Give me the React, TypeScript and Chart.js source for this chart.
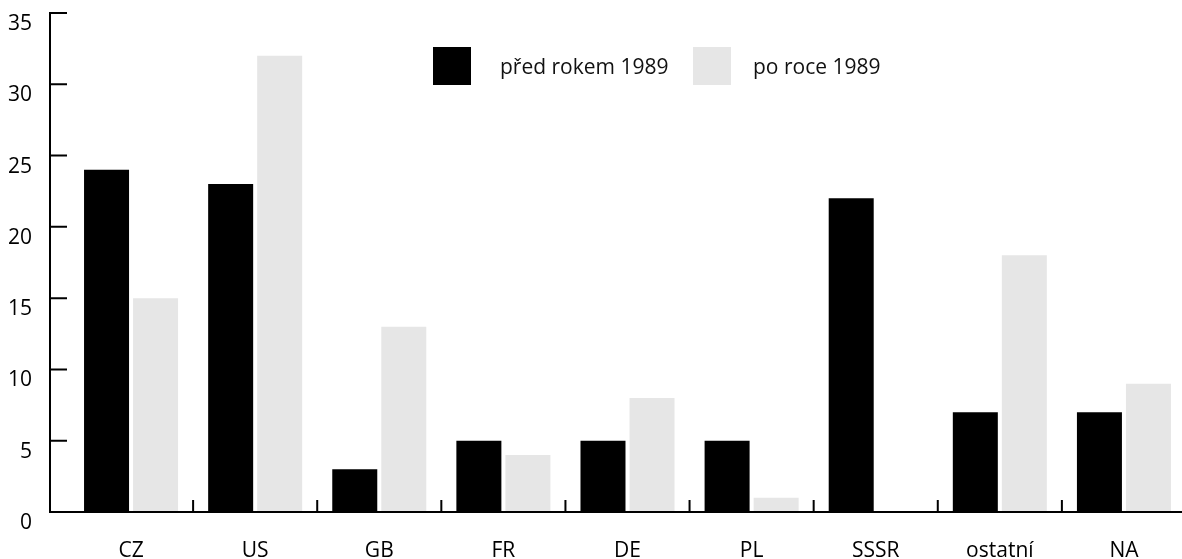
import React, { useEffect, useRef } from "react";
import { Chart, registerables } from "chart.js";

Chart.register(...registerables);

const categories = ["CZ", "US", "GB", "FR", "DE", "PL", "SSSR", "ostatní", "NA"];
const seriesNames = ["před rokem 1989", "po roce 1989"];
const before1989 = [24, 23, 3, 5, 5, 5, 22, 7, 7];
const after1989 = [15, 32, 13, 4, 8, 1, 0, 18, 9];
const yTicks = [0, 5, 10, 15, 20, 25, 30, 35];
const seriesColors = ["#000000", "#e6e6e6"];

const FONT = "'Open Sans', sans-serif";
const AXIS_X = 50;
const Y_TICK_LEN = 17;
const X_TICK_LEN = 12;

const axesPlugin = {
  id: "customAxes",
  afterDraw(chart: any) {
    const ctx = chart.ctx;
    const ys = chart.scales.y;
    const xs = chart.scales.x;
    const y0 = ys.getPixelForValue(0);
    const yTop = ys.getPixelForValue(yTicks[yTicks.length - 1]);
    ctx.save();
    ctx.strokeStyle = "#000";
    ctx.lineWidth = 2;
    ctx.beginPath();
    ctx.moveTo(AXIS_X, yTop - 1);
    ctx.lineTo(AXIS_X, y0 + 1);
    ctx.moveTo(AXIS_X - 1, y0);
    ctx.lineTo(chart.width, y0);
    for (const v of yTicks) {
      if (v === 0) continue;
      const p = ys.getPixelForValue(v);
      ctx.moveTo(AXIS_X, p);
      ctx.lineTo(AXIS_X + Y_TICK_LEN, p);
    }
    for (let i = 1; i < categories.length; i++) {
      const px = (xs.getPixelForValue(i - 1) + xs.getPixelForValue(i)) / 2;
      ctx.moveTo(px, y0);
      ctx.lineTo(px, y0 - X_TICK_LEN);
    }
    ctx.stroke();
    ctx.restore();
  },
};

export default function App() {
  const canvasRef = useRef<HTMLCanvasElement>(null);

  useEffect(() => {
    if (!canvasRef.current) return;
    const chart = new Chart(canvasRef.current, {
      type: "bar",
      data: {
        labels: categories,
        datasets: [
          {
            label: seriesNames[0],
            data: before1989,
            backgroundColor: seriesColors[0],
            categoryPercentage: 0.79,
            barPercentage: 0.918,
          },
          {
            label: seriesNames[1],
            data: after1989,
            backgroundColor: seriesColors[1],
            categoryPercentage: 0.79,
            barPercentage: 0.918,
          },
        ],
      },
      options: {
        responsive: false,
        animation: false,
        layout: { padding: { top: 13, right: 4, left: 0, bottom: 0 } },
        plugins: {
          legend: { display: false },
          tooltip: { enabled: false },
        },
        scales: {
          x: {
            grid: { display: false, drawTicks: false },
            border: { display: false },
            ticks: {
              font: { family: FONT, size: 21 },
              color: "#000",
              padding: 26,
              maxRotation: 0,
              autoSkip: false,
            },
            afterFit: (s: any) => {
              s.height = 47;
              s.paddingLeft = 0;
              s.paddingRight = 0;
            },
          },
          y: {
            min: 0,
            max: 35,
            grid: { display: false, drawTicks: false },
            border: { display: false },
            ticks: {
              font: { family: FONT, size: 21 },
              color: "#000",
              padding: 37,
              labelOffset: 11,
              stepSize: 5,
            },
            afterBuildTicks: (s: any) => {
              s.ticks = yTicks.map((v) => ({ value: v }));
            },
            afterFit: (s: any) => {
              s.width = 69;
              s.paddingTop = 0;
              s.paddingBottom = 0;
            },
          },
        },
      },
      plugins: [axesPlugin],
    });
    return () => chart.destroy();
  }, []);

  const legendPos = [
    { box: 433, text: 500 },
    { box: 693, text: 753 },
  ];

  return (
    <div
      style={{
        position: "fixed",
        left: 0,
        top: 0,
        width: 1182,
        height: 559,
        overflow: "hidden",
        background: "#fff",
      }}
    >
      <canvas ref={canvasRef} width={1190} height={559} style={{ width: 1190, height: 559, display: "block" }} />
      {seriesNames.map((name, i) => (
        <React.Fragment key={name}>
          <div
            style={{
              position: "absolute",
              left: legendPos[i].box,
              top: 47,
              width: 38,
              height: 38,
              background: seriesColors[i],
            }}
          />
          <div
            style={{
              position: "absolute",
              left: legendPos[i].text,
              top: 66,
              transform: "translateY(-50%)",
              fontFamily: FONT,
              fontSize: 21,
              color: "#111",
              whiteSpace: "nowrap",
              lineHeight: "26px",
            }}
          >
            {name}
          </div>
        </React.Fragment>
      ))}
    </div>
  );
}
